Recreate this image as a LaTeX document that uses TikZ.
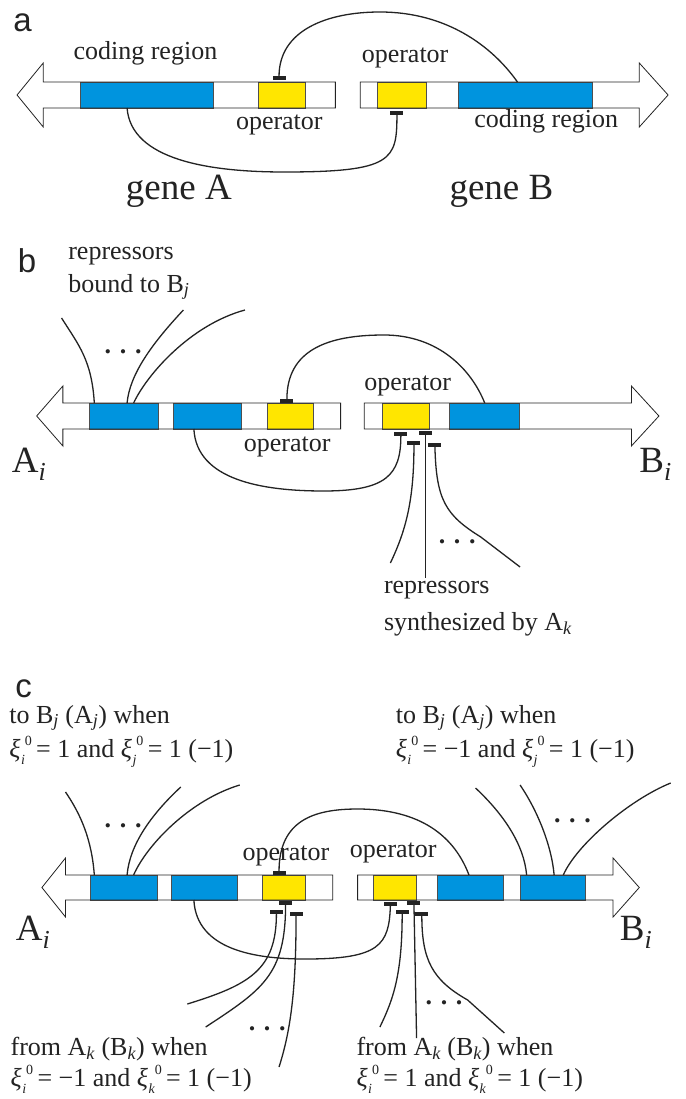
\documentclass[tikz,border=0pt]{standalone}
\usepackage{fontspec}
\setmainfont{Liberation Serif}
\newfontfamily\labelfont{Liberation Sans}
\definecolor{geneblue}{RGB}{0,148,222}
\definecolor{geneyellow}{RGB}{255,230,0}
\definecolor{ink}{RGB}{35,35,35}
\newcommand{\sbs}[1]{\textsubscript{\itshape #1}}
\newcommand{\xiv}[1]{{\itshape ξ\/}\kern0.5pt\raisebox{-0.6ex}{\fontsize{14}{14}\selectfont\itshape #1}\raisebox{0.95ex}{\fontsize{14}{14}\selectfont 0}}
\tikzset{
 genebar/.style={draw=ink, line width=0.8pt},
 bbox/.style={draw=ink!80, line width=0.5pt, fill=geneblue, inner sep=0pt, outer sep=0pt},
 ybox/.style={draw=ink!80, line width=0.5pt, fill=geneyellow, inner sep=0pt, outer sep=0pt},
 tb/.style={fill=ink, minimum width=13pt, minimum height=3.5pt, inner sep=0pt, outer sep=0pt},
 link/.style={draw=ink, line width=1.3pt},
 txt/.style={font=\fontsize{26}{28}\selectfont, inner sep=0pt, anchor=base west, text=ink},
 big/.style={font=\fontsize{37}{40}\selectfont, inner sep=0pt, anchor=base west, text=ink},
 panel/.style={font=\labelfont\fontsize{33}{34}\selectfont, inner sep=0pt, anchor=base west, text=ink},
 dots/.style={font=\fontsize{26}{26}\selectfont\bfseries, inner sep=0pt, text=ink},
}
\begin{document}
\begin{tikzpicture}[x=1.31pt,y=-1pt]
\fill[white] (0,0) rectangle (523.66,1099);
\useasboundingbox (0,0) rectangle (523.66,1099);

% ---------------- panel a
\node[panel] (la) at (10,32) {a};
\def\gAl{(256,82) -- (33,82) -- (33,63) -- (13,95) -- (33,127) -- (33,108) -- (256,108) -- cycle}
\def\gAr{(275,82) -- (488,82) -- (488,63) -- (510,95) -- (488,127) -- (488,108) -- (275,108) -- cycle}
\fill[white] \gAl; \fill[white] \gAr;
\node[bbox, minimum width=133.6pt, minimum height=26pt] (aAc) at (112,95) {};
\node[ybox, minimum width=47.2pt, minimum height=26pt] (aAo) at (215,95) {};
\node[ybox, minimum width=48.5pt, minimum height=26pt] (aBo) at (306.5,95) {};
\node[bbox, minimum width=133.6pt, minimum height=26pt] (aBc) at (401,95) {};
\draw[genebar] \gAl; \draw[genebar] \gAr;
\node[tb] (aT1) at (213,78) {};
\node[tb] (aT2) at (303,113) {};
\coordinate (aB1) at (395,82);
\coordinate (aA1) at (97,108);
\draw[link] (aB1) .. controls (375,45) and (340,12) .. (290,12) .. controls (250,12) and (213,30) .. (aT1.north);
\draw[link] (aA1) .. controls (100,160) and (160,172) .. (217,172) .. controls (300,172) and (303,160) .. (aT2.south);
\node[txt] (aTc) at (56,60) {coding region};
\node[txt] (aTo) at (180,130) {operator};
\node[txt] (aTo2) at (276,63) {operator};
\node[txt] (aTc2) at (362,128) {coding region};
\node[big] (aGA) at (96,200) {gene A};
\node[big] (aGB) at (343,200) {gene B};

% ---------------- panel b
\node[panel] (lb) at (13.5,272) {b};
\def\gBl{(260,403) -- (48,403) -- (48,386) -- (28,416) -- (48,446) -- (48,429) -- (260,429) -- cycle}
\def\gBr{(278,403) -- (482,403) -- (482,386) -- (503,416) -- (482,446) -- (482,429) -- (278,429) -- cycle}
\fill[white] \gBl; \fill[white] \gBr;
\node[bbox, minimum width=69.4pt, minimum height=26pt] (bA1) at (94.5,416) {};
\node[bbox, minimum width=68.1pt, minimum height=26pt] (bA2) at (158,416) {};
\node[ybox, minimum width=45.9pt, minimum height=26pt] (bAo) at (221.5,416) {};
\node[ybox, minimum width=47.2pt, minimum height=26pt] (bBo) at (310,416) {};
\node[bbox, minimum width=69.4pt, minimum height=26pt] (bB1) at (369.5,416) {};
\draw[genebar] \gBl; \draw[genebar] \gBr;
\node[tb] (bT0) at (219,401) {};
\node[tb] (bT1) at (306,434) {};
\node[tb] (bT2) at (316,443) {};
\node[tb] (bT3) at (325,433) {};
\node[tb] (bT4) at (332,445) {};
\coordinate (bBc) at (370,403);
\coordinate (bAc) at (148,429);
\draw[link] (bBc) .. controls (360,370) and (335,335) .. (293,335) .. controls (250,335) and (219,350) .. (bT0.north);
\draw[link] (bAc) .. controls (150,480) and (200,491) .. (247,491) .. controls (295,491) and (306,475) .. (bT1.south);
\coordinate (bE1) at (298,563);
\coordinate (bE2) at (325,578);
\coordinate (bE3) at (397,567);
\draw[link] (bT2.south) .. controls (316,500) and (310,530) .. (bE1);
\draw[link] (bT3.south) -- (bE2);
\draw[link] (bT4.south) .. controls (333,500) and (340,515) .. (367,537) -- (bE3);
\coordinate (bF1s) at (72,403); \coordinate (bF1e) at (47,318);
\coordinate (bF2s) at (97,403); \coordinate (bF2e) at (140,310);
\coordinate (bF3s) at (102,403); \coordinate (bF3e) at (187,310);
\draw[link] (bF1s) .. controls (70,360) and (60,345) .. (bF1e);
\draw[link] (bF2s) .. controls (99,375) and (115,345) .. (bF2e);
\draw[link] (bF3s) .. controls (112,375) and (145,325) .. (bF3e);
\node[dots] (bD1) at (94,352) {. . .};
\node[dots] (bD2) at (349,542) {. . .};
\node[txt] (bR) at (52,259) {repressors};
\node[txt] (bB) at (52,292) {bound to B\sbs{j}};
\node[txt] (bO1) at (278,390) {operator};
\node[txt] (bO2) at (186,451) {operator};
\node[big] (bAi) at (9,472) {A\sbs{i}};
\node[big] (bBi) at (488,472) {B\sbs{i}};
\node[txt] (bR2) at (293,593) {repressors};
\node[txt] (bS) at (293,630) {synthesized by A\sbs{k}};

% ---------------- panel c
\node[panel] (lc) at (11.5,697) {c};
\def\gCl{(254,875) -- (50,875) -- (50,858) -- (32,887.5) -- (50,917) -- (50,900) -- (254,900) -- cycle}
\def\gCr{(273,875) -- (468,875) -- (468,858) -- (488,887.5) -- (468,917) -- (468,900) -- (273,900) -- cycle}
\fill[white] \gCl; \fill[white] \gCr;
\node[bbox, minimum width=66.8pt, minimum height=25pt] (cA1) at (94.5,887.5) {};
\node[bbox, minimum width=65.5pt, minimum height=25pt] (cA2) at (156,887.5) {};
\node[ybox, minimum width=43.2pt, minimum height=25pt] (cAo) at (216.5,887.5) {};
\node[ybox, minimum width=43.2pt, minimum height=25pt] (cBo) at (301.5,887.5) {};
\node[bbox, minimum width=65.5pt, minimum height=25pt] (cB1) at (359,887.5) {};
\node[bbox, minimum width=65.5pt, minimum height=25pt] (cB2) at (422,887.5) {};
\draw[genebar] \gCl; \draw[genebar] \gCr;
\node[tb] (cT0) at (213,873) {};
\node[tb] (cT1) at (218,903) {};
\node[tb] (cT2) at (211,912) {};
\node[tb] (cT3) at (226,914) {};
\node[tb] (cT4) at (298,904) {};
\node[tb] (cT5) at (307,912) {};
\node[tb] (cT6) at (316,903) {};
\node[tb] (cT7) at (322,914) {};
\coordinate (cBc) at (358,875);
\coordinate (cAc) at (148,900);
\draw[link] (cBc) .. controls (345,830) and (315,809) .. (273,809) .. controls (240,809) and (213,820) .. (cT0.north);
\draw[link] (cAc) .. controls (150,950) and (195,959) .. (233,959) .. controls (290,959) and (297,945) .. (cT4.south);
% left fan
\coordinate (cF1s) at (72,875); \coordinate (cF1e) at (50,792);
\coordinate (cF2s) at (97,875); \coordinate (cF2e) at (138,787);
\coordinate (cF3s) at (102,875); \coordinate (cF3e) at (183,785);
\draw[link] (cF1s) .. controls (70,840) and (62,815) .. (cF1e);
\draw[link] (cF2s) .. controls (99,845) and (115,815) .. (cF2e);
\draw[link] (cF3s) .. controls (112,845) and (145,800) .. (cF3e);
% right fan
\coordinate (cG1s) at (402,875); \coordinate (cG1e) at (363,788);
\coordinate (cG2s) at (423,875); \coordinate (cG2e) at (397,785);
\coordinate (cG3s) at (430,875); \coordinate (cG3e) at (512,783);
\draw[link] (cG1s) .. controls (400,845) and (385,815) .. (cG1e);
\draw[link] (cG2s) .. controls (421,845) and (410,810) .. (cG2e);
\draw[link] (cG3s) .. controls (440,845) and (480,800) .. (cG3e);
% bottom repressors
\coordinate (cH1) at (143,1004);
\coordinate (cH2) at (157,1027);
\coordinate (cH3) at (213,1067);
\coordinate (cH4) at (290,1027);
\coordinate (cH5) at (318,1038);
\coordinate (cH6) at (385,1033);
\draw[link] (cT2.south) .. controls (211,970) and (190,985) .. (cH1);
\draw[link] (cT1.south) .. controls (218,975) and (200,990) .. (cH2);
\draw[link] (cT3.south) .. controls (226,990) and (222,1030) .. (cH3);
\draw[link] (cT5.south) .. controls (307,975) and (300,1000) .. (cH4);
\draw[link] (cT6.south) -- (cH5);
\draw[link] (cT7.south) .. controls (322,960) and (330,980) .. (357,1000) -- (cH6);
\node[dots] (cD1) at (94,826) {. . .};
\node[dots] (cD2) at (437,821) {. . .};
\node[dots] (cD3) at (204,1029) {. . .};
\node[dots] (cD4) at (339,1003) {. . .};
\node[txt] (cL1) at (7,723) {to B\sbs{j} (A\sbs{j}) when};
\node[txt] (cL2) at (7,757) {\xiv{i}\,= 1 and \xiv{j}\,= 1 (−1)};
\node[txt] (cR1) at (302,723) {to B\sbs{j} (A\sbs{j}) when};
\node[txt] (cR2) at (302,757) {\xiv{i}\,= −1 and \xiv{j}\,= 1 (−1)};
\node[txt] (cO1) at (185,860) {operator};
\node[txt] (cO2) at (267,857) {operator};
\node[big] (cAi) at (12,940) {A\sbs{i}};
\node[big] (cBi) at (473,940) {B\sbs{i}};
\node[txt] (cF1) at (8,1055) {from A\sbs{k} (B\sbs{k}) when};
\node[txt] (cF2) at (8,1086) {\xiv{i}\,= −1 and \xiv{k}\,= 1 (−1)};
\node[txt] (cF3) at (272,1055) {from A\sbs{k} (B\sbs{k}) when};
\node[txt] (cF4) at (272,1086) {\xiv{i}\,= 1 and \xiv{k}\,= 1 (−1)};
\end{tikzpicture}
\end{document}
